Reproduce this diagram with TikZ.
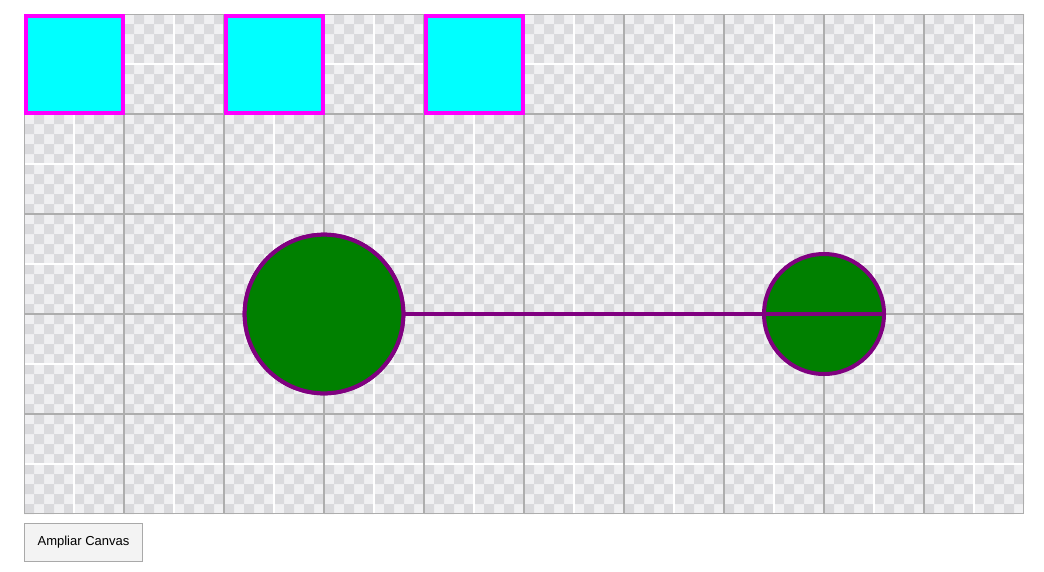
\documentclass[tikz,border=0pt]{standalone}
\usepackage{fontspec}
\setmainfont{Liberation Sans}
\definecolor{chklight}{HTML}{F0F0F2}
\definecolor{chkdark}{HTML}{DADADD}
\definecolor{gridgray}{HTML}{ADADAD}
\definecolor{cyanfill}{HTML}{00FFFF}
\definecolor{magentaline}{HTML}{FF00FF}
\definecolor{greenfill}{HTML}{008000}
\definecolor{purpleline}{HTML}{800080}
\definecolor{btnborder}{HTML}{A9A9A9}
\definecolor{btnfill}{HTML}{F3F3F3}
\tikzset{
  sqbox/.style={draw=magentaline, fill=cyanfill, line width=3pt},
  ball/.style={circle, draw=purpleline, fill=greenfill, line width=3pt, inner sep=0pt},
  link/.style={draw=purpleline, line width=3pt},
  btn/.style={draw=btnborder, fill=btnfill, line width=0.75pt, inner sep=0pt, font=\fontsize{9.75pt}{11pt}\selectfont}
}
\begin{document}
\begin{tikzpicture}[x=0.75pt, y=-0.75pt]
\useasboundingbox (0,0) rectangle (1044,571);
\fill[white] (0,0) rectangle (1044,571);
% checkerboard
\fill[chklight] (24,14) rectangle (1024,514);
\fill[chkdark] \foreach \i in {0,...,99} {\foreach \j in {0,...,49} {
  \ifodd\numexpr\i+\j\relax (24+10*\i,14+10*\j) rectangle ++(10,10) \fi }};
% white mid lines
\foreach \k in {0,...,9} \draw[white, line width=1.5pt] (74+100*\k,14) -- (74+100*\k,514);
\foreach \k in {0,...,4} \draw[white, line width=1.5pt] (24,64+100*\k) -- (1024,64+100*\k);
% gray grid
\foreach \k in {1,...,9} \draw[gridgray, line width=1.5pt] (24+100*\k,14) -- (24+100*\k,514);
\foreach \k in {1,...,4} \draw[gridgray, line width=1.5pt] (24,14+100*\k) -- (1024,14+100*\k);
\draw[gridgray, line width=0.75pt] (24.5,14.5) rectangle (1023.5,513.5);
% squares
\draw[sqbox] (26,16) rectangle (123,113);
\draw[sqbox] (226,16) rectangle (323,113);
\draw[sqbox] (426,16) rectangle (523,113);
% circles and link
\node[ball, minimum size=119pt] (big) at (324,314) {};
\node[ball, minimum size=90pt] (small) at (824,314) {};
\draw[link] (big.east) -- (small.east);
\node[ball, minimum size=119pt] at (324,314) {};
% button
\node[btn, minimum width=88.5pt, minimum height=28.5pt, anchor=north west] (button) at (24,523) {Ampliar Canvas};
\end{tikzpicture}
\end{document}
